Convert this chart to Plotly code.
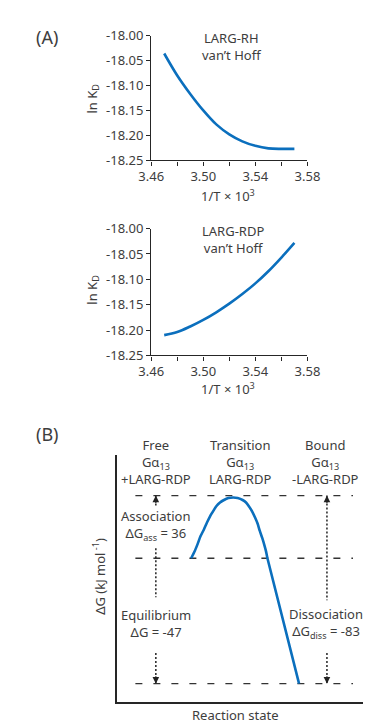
import plotly.graph_objects as go

# ---------------- data ----------------
inv_T = [3.47, 3.48, 3.49, 3.50, 3.51, 3.52, 3.53, 3.54, 3.55, 3.56, 3.57]
lnKD_RH = [-18.036, -18.080, -18.117, -18.150, -18.178, -18.198, -18.212, -18.221, -18.226, -18.227, -18.227]
lnKD_RDP = [-18.210, -18.204, -18.193, -18.180, -18.165, -18.148, -18.129, -18.108, -18.084, -18.057, -18.028]

x_tickvals = [3.46, 3.50, 3.54, 3.58]
x_ticktext = ["3.46", "3.50", "3.54", "3.58"]
y_tickvals = [-18.25, -18.20, -18.15, -18.10, -18.05, -18.00]
y_ticktext = ["-18.25", "-18.20", "-18.15", "-18.10", "-18.05", "-18.00"]

# Panel B (schematic energy diagram)
state_names = ["Free", "Transition", "Bound"]
state_protein = ["Gα<sub>13</sub>", "Gα<sub>13</sub>", "Gα<sub>13</sub>"]
state_complex = ["+LARG-RDP", "LARG-RDP", "-LARG-RDP"]
level_transition = 1.0
level_free = 0.0
level_bound = -2.0
path_x = [80, 84, 87, 90, 93.7, 97, 100.3, 104, 107, 111, 115.3, 120, 125.3, 130, 135.3, 139, 142, 145.5, 148.7, 151.5, 153.7, 156.5, 158.7, 160.5, 162, 196]
path_y = [0.0, 0.12, 0.23, 0.35, 0.46, 0.57, 0.67, 0.76, 0.83, 0.89, 0.93, 0.96, 0.97, 0.96, 0.93, 0.89, 0.83, 0.75, 0.65, 0.55, 0.44, 0.32, 0.21, 0.11, 0.0, -2.0]

BLUE = "#0b6fbd"
TXT = "#3d3d3d"
AX = "#262626"
FONT = "Noto Sans"
FS = 13
W, H = 371, 725


def X(px):
    return px / W


def Y(py):
    return 1 - py / H


fig = go.Figure()

fig.add_trace(go.Scatter(x=inv_T, y=lnKD_RH, mode="lines", line=dict(color=BLUE, width=2.6, shape="spline"),
                         xaxis="x", yaxis="y", showlegend=False, hoverinfo="skip"))
fig.add_trace(go.Scatter(x=inv_T, y=lnKD_RDP, mode="lines", line=dict(color=BLUE, width=2.6, shape="spline"),
                         xaxis="x2", yaxis="y2", showlegend=False, hoverinfo="skip"))

# Panel B dashed energy levels
lvl_x = [20, 254]
for lv in [level_transition, level_free, level_bound]:
    fig.add_trace(go.Scatter(x=lvl_x, y=[lv, lv], mode="lines",
                             line=dict(color="#333333", width=1.4, dash="7px,11px"),
                             xaxis="x3", yaxis="y3", showlegend=False, hoverinfo="skip"))

# Reaction path
fig.add_trace(go.Scatter(x=path_x, y=path_y, mode="lines",
                         line=dict(color=BLUE, width=2.6, shape="spline", smoothing=0.6),
                         xaxis="x3", yaxis="y3", showlegend=False, hoverinfo="skip"))

# dotted arrow shafts
ax_left = 42
ax_right = 226
dotted = [
    (ax_left, [level_transition, 0.82]),
    (ax_left, [0.16, -0.62]),
    (ax_left, [-1.51, level_bound]),
    (ax_right, [level_transition, -0.67]),
    (ax_right, [-1.51, level_bound]),
]
for xx, yy in dotted:
    fig.add_trace(go.Scatter(x=[xx, xx], y=yy, mode="lines",
                             line=dict(color="#222222", width=1.5, dash="2px,2px"),
                             xaxis="x3", yaxis="y3", showlegend=False, hoverinfo="skip"))

ann = []
# arrow heads
for xx, yy, ay in [(ax_left, level_transition, 9), (ax_right, level_transition, 9),
                   (ax_left, level_bound, -9), (ax_right, level_bound, -9)]:
    ann.append(dict(x=xx, y=yy, xref="x3", yref="y3", text="", showarrow=True, ax=0, ay=ay,
                    axref="pixel", ayref="pixel", arrowhead=2, arrowsize=1.1, arrowwidth=1.2,
                    arrowcolor="#222222", standoff=0, startstandoff=0))


def txt(s, px, py, size=FS, anchor="center", angle=0, color=TXT):
    ann.append(dict(text=s, x=X(px), y=Y(py), xref="paper", yref="paper", showarrow=False,
                    xanchor=anchor, yanchor="middle", textangle=angle, align="center",
                    font=dict(family=FONT, size=size, color=color)))


# Panel A texts
txt("(A)", 28, 21, size=18)
txt("LARG-RH<br>van’t Hoff", 192, 30, anchor="left")
txt("ln K<sub>D</sub>", 77, 84, angle=-90)
txt("1/T × 10<sup>3</sup>", 223, 183)

txt("LARG-RDP<br>van’t Hoff", 192, 228, anchor="left")
txt("ln K<sub>D</sub>", 77, 280, angle=-90)
txt("1/T × 10<sup>3</sup>", 223, 381)

# Panel B texts
txt("(B)", 28, 428, size=18)
top_px = [145, 235, 327]
for name, prot, cplx, cx in zip(state_names, state_protein, state_complex, top_px):
    txt(name + "<br>" + prot + "<br>" + cplx, cx, 456)

txt("Association<br>ΔG<sub>ass</sub> = 36", 145, 521)
txt("Equilibrium<br>ΔG = -47", 145, 622)
txt("Dissociation<br>ΔG<sub>diss</sub> = -83", 328, 622)
txt("ΔG (kJ mol<sup> -1</sup>)", 84, 574, angle=-90)
txt("Reaction state", 231, 716)

axis_common = dict(showline=True, linecolor=AX, linewidth=1.3, ticks="outside", ticklen=4,
                   tickcolor=AX, tickwidth=1.2, showgrid=False, zeroline=False,
                   tickfont=dict(family=FONT, size=FS, color=TXT), fixedrange=True)

xa = dict(axis_common, range=[3.46, 3.58], tickvals=x_tickvals, ticktext=x_ticktext,
          minor=dict(tickvals=[3.48, 3.52, 3.56], ticks="outside", ticklen=4, tickcolor=AX, tickwidth=1.2))
ya = dict(axis_common, range=[-18.25, -18.00], tickvals=y_tickvals, ticktext=y_ticktext)

fig.update_layout(
    width=W, height=H, autosize=False,
    margin=dict(l=0, r=0, t=0, b=0),
    paper_bgcolor="white", plot_bgcolor="white",
    font=dict(family=FONT, color=TXT),
    xaxis=dict(xa, domain=[X(140), X(308)], anchor="y"),
    yaxis=dict(ya, domain=[Y(147), Y(19)], anchor="x"),
    xaxis2=dict(xa, domain=[X(140), X(308)], anchor="y2"),
    yaxis2=dict(ya, domain=[Y(347), Y(217)], anchor="x2"),
    xaxis3=dict(domain=[X(103), 1.0], anchor="y3", range=[0, 268], showline=True, linecolor=AX,
                linewidth=1.5, showticklabels=False, ticks="", showgrid=False, zeroline=False, fixedrange=True),
    yaxis3=dict(domain=[Y(702), Y(449)], anchor="x3", range=[-2.286, 1.65], showline=True, linecolor=AX,
                linewidth=1.5, showticklabels=False, ticks="", showgrid=False, zeroline=False, fixedrange=True),
    annotations=ann,
    showlegend=False,
)

fig.write_html("out.html", config={"displayModeBar": False})
